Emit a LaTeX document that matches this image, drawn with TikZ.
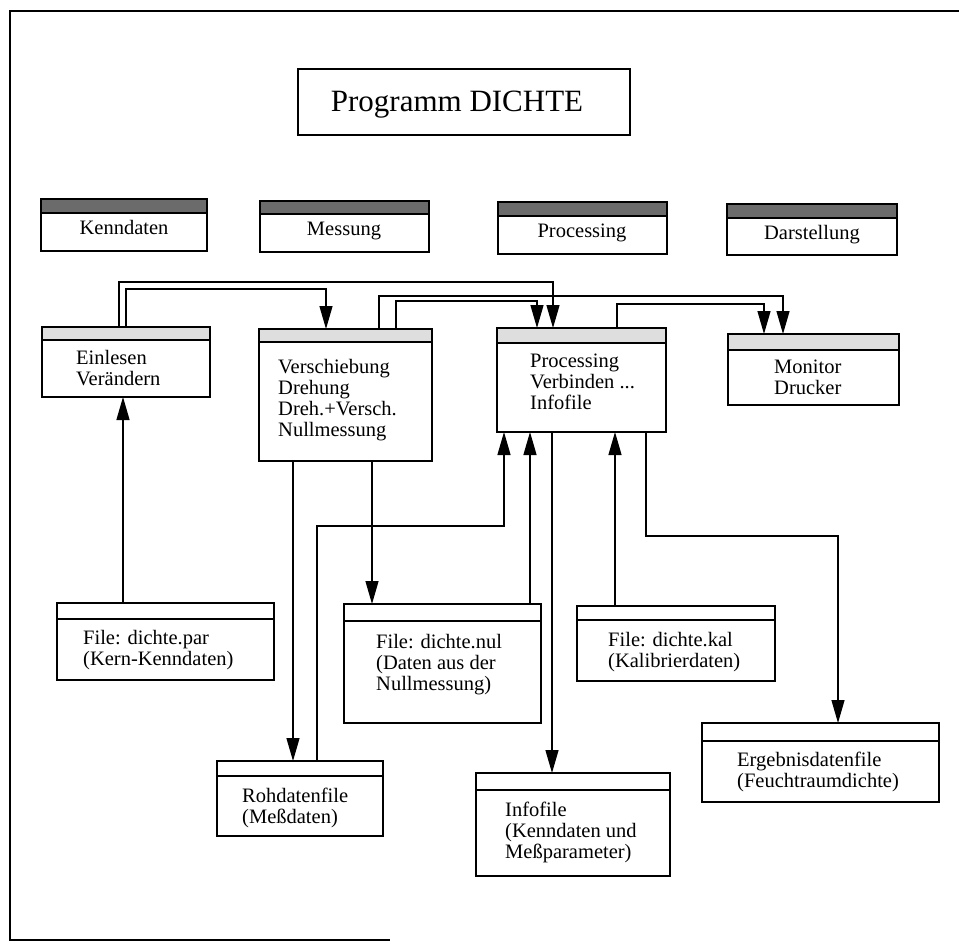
\documentclass[tikz,border=0pt]{standalone}
\usepackage{fontspec}
\setmainfont{Liberation Serif}
\usetikzlibrary{arrows.meta}
\begin{document}
\begin{tikzpicture}[x=1pt,y=-1pt,
  bx/.style n args={4}{draw, line width=1.6pt, inner sep=0pt, outer sep=0pt,
    minimum width=#1pt, minimum height=#2pt, anchor=north west,
    path picture={\fill[#4] (path picture bounding box.north west) rectangle ([yshift=-#3pt]path picture bounding box.north east);
      \draw[line width=1.6pt] ([yshift=-#3pt]path picture bounding box.north west) -- ([yshift=-#3pt]path picture bounding box.north east);}},
  tbox/.style={draw, line width=1.5pt, inner sep=0pt, outer sep=0pt, anchor=north west},
  txt/.style={align=left, anchor=north west, inner sep=0pt, font=\fontsize{20.5pt}{21pt}\selectfont},
  lbl/.style={anchor=base, inner sep=0pt, font=\fontsize{20.5pt}{21pt}\selectfont},
  arr/.style={line width=1.3pt, -{Triangle[length=23pt,width=13pt]}},
  frm/.style={line width=1.6pt}
]
\useasboundingbox (0,0) rectangle (959,944);
% frame
\draw[frm] (959,11) -- (10,11) -- (10,940) -- (390,940);

% title
\node[tbox, minimum width=332pt, minimum height=66pt] (title) at (298,69) {};
\node[anchor=base, inner sep=0pt, font=\fontsize{31pt}{33pt}\selectfont] (titletxt) at (457,112) {Programm DICHTE};

% header boxes
\node[bx={166}{52}{14}{black!58}] (kenn) at (41,199) {};
\node[bx={169}{51}{13}{black!58}] (mess) at (260,201) {};
\node[bx={169}{52}{14}{black!58}] (proch) at (498,202) {};
\node[bx={170}{51}{14}{black!58}] (darst) at (727,204) {};
\node[lbl] (kenntxt) at (124,235) {Kenndaten};
\node[lbl] (messtxt) at (344,236) {Messung};
\node[lbl] (prochtxt) at (582,238) {Processing};
\node[lbl] (darsttxt) at (812,240) {Darstellung};

% module boxes
\node[bx={168}{70}{13}{black!13}] (ein) at (42,327) {};
\node[bx={173}{132}{13}{black!13}] (versch) at (259,329) {};
\node[bx={169}{104}{15}{black!13}] (proc) at (497,328) {};
\node[bx={171}{71}{16}{black!13}] (mon) at (728,334) {};
\node[txt] (eintxt) at (76,350) {Einlesen\\Verändern};
\node[txt] (verschtxt) at (278,359) {Verschiebung\\Drehung\\Dreh.+Versch.\\Nullmessung};
\node[txt] (proctxt) at (530,354) {Processing\\Verbinden ...\\Infofile};
\node[txt] (montxt) at (774,360) {Monitor\\Drucker};

% file boxes
\node[bx={217}{77}{16}{white}] (par) at (57,603) {};
\node[bx={197}{119}{17}{white}] (nul) at (344,604) {};
\node[bx={198}{75}{14}{white}] (kal) at (577,606) {};
\node[bx={166}{75}{15}{white}] (roh) at (217,761) {};
\node[bx={194}{103}{17}{white}] (info) at (476,773) {};
\node[bx={237}{79}{18}{white}] (erg) at (702,723) {};
\node[txt] (partxt) at (83,630) {File: dichte.par\\(Kern-Kenndaten)};
\node[txt] (nultxt) at (376,634) {File: dichte.nul\\(Daten aus der\\Nullmessung)};
\node[txt] (kaltxt) at (608,632) {File: dichte.kal\\(Kalibrierdaten)};
\node[txt] (rohtxt) at (242,788) {Rohdatenfile\\(Meßdaten)};
\node[txt] (infotxt) at (505,802) {Infofile\\(Kenndaten und\\Meßparameter)};
\node[txt] (ergtxt) at (737,752) {Ergebnisdatenfile\\(Feuchtraumdichte)};

% connectors (top)
\draw[arr] (ein.north -| 119,0) -- ++(0,-45) -| (proc.north -| 553,0);
\draw[arr] (ein.north -| 126,0) -- ++(0,-38) -| (versch.north -| 326,0);
\draw[arr] (versch.north -| 379,0) -- ++(0,-33) -| (mon.north -| 783,0);
\draw[arr] (versch.north -| 396,0) -- ++(0,-28) -| (proc.north -| 537,0);
\draw[arr] (proc.north -| 617,0) -- ++(0,-24) -| (mon.north -| 764,0);

% connectors (lower)
\draw[arr] (par.north -| 123,0) -- (ein.south -| 123,0);
\draw[arr] (versch.south -| 293,0) -- (roh.north -| 293,0);
\draw[arr] (versch.south -| 372,0) -- (nul.north -| 372,0);
\draw[arr] (roh.north -| 317,0) -- ++(0,-235) -| (proc.south -| 504,0);
\draw[arr] (nul.north -| 530,0) -- (proc.south -| 530,0);
\draw[arr] (proc.south -| 552,0) -- (info.north -| 552,0);
\draw[arr] (kal.north -| 615,0) -- (proc.south -| 615,0);
\draw[arr] (proc.south -| 646,0) -- ++(0,104) -| (erg.north -| 838,0);
\end{tikzpicture}
\end{document}
